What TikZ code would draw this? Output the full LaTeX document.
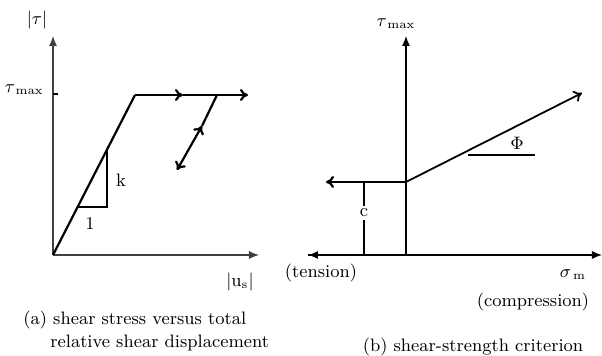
\documentclass[tikz,border=0pt]{standalone}
\usetikzlibrary{arrows.meta}
\tikzset{
  axis/.style={line width=0.6pt, black!75, -{Latex[length=5pt,width=4pt]}},
  law/.style={line width=1.1pt, -{To[length=4pt,width=6pt]}},
  lbl/.style={font=\fontsize{9}{11}\selectfont, inner sep=1pt},
}
\begin{document}
\begin{tikzpicture}[x=0.5pt,y=-0.5pt]
\useasboundingbox (0,0) rectangle (602,356);
% (a) shear stress versus displacement
\coordinate (oa) at (53,255);
\coordinate (ya) at (53,36);
\coordinate (xa) at (259,255);
\coordinate (ytop) at (135,95);
\coordinate (pmid) at (183,95);
\coordinate (pend) at (248,95);
\coordinate (ustart) at (217,95);
\coordinate (umid) at (202,126);
\coordinate (uend) at (177,170);
\coordinate (ttop) at (107,150);
\coordinate (tcorner) at (107,207);
\coordinate (tleft) at (77.5,207);
\coordinate (tick) at (58,94);
\draw[axis] (oa) -- (ya);
\draw[axis] (oa) -- (xa);
\draw[line width=0.6pt] (53,94) -- (tick);
\draw[line width=1.1pt] (oa) -- (ytop);
\draw[law] (ytop) -- (pmid);
\draw[law] (pmid) -- (pend);
\draw[line width=1.1pt] (ustart) -- (umid);
\draw[law,{To[length=4pt,width=6pt]}-{To[length=4pt,width=6pt]}] (uend) -- (umid);
\draw[line width=0.6pt] (tleft) -- (tcorner) -- (ttop);
\node[lbl] (tau) at (37,20) {$|\tau|$};
\node[lbl,anchor=east] (taumaxa) at (46,90) {$\tau_{\,\mathrm{max}}$};
\node[lbl] (k) at (121,180) {k};
\node[lbl] (one) at (90,224) {1};
\node[lbl] (us) at (240,282) {$|\mathrm{u}_{\mathrm{s}}|$};
\node[lbl,anchor=west] (capa1) at (21,320) {(a) shear stress versus total};
\node[lbl,anchor=west] (capa2) at (48,343) {relative shear displacement};
% (b) shear-strength criterion
\coordinate (ob) at (406,255);
\coordinate (yb) at (406,36);
\coordinate (xbl) at (308,255);
\coordinate (xbr) at (602,255);
\coordinate (cpt) at (406,182);
\coordinate (cend) at (326,182);
\coordinate (fend) at (582,93);
\coordinate (phil) at (468,155);
\coordinate (phir) at (535,155);
\draw[axis,black] (ob) -- (yb);
\draw[axis,black] (xbl) -- (xbr);
\draw[axis,black] (ob) -- (xbl);
\draw[law] (cpt) -- (cend);
\draw[law,line width=0.9pt] (cpt) -- (fend);
\draw[line width=0.6pt] (phil) -- (phir);
\node[lbl] (c) at (364,213) {c};
\draw[line width=0.6pt] (364,183) -- (c.north);
\draw[line width=0.6pt] (c.south) -- (364,255);
\node[lbl] (taumaxb) at (396,24) {$\tau_{\,\mathrm{max}}$};
\node[lbl] (phi) at (517,143) {$\Phi$};
\node[lbl] (tension) at (321,273) {(tension)};
\node[lbl] (sigm) at (573,275) {$\sigma_{\,\mathrm{m}}$};
\node[lbl] (comp) at (533,302) {(compression)};
\node[lbl] (capb) at (473,347) {(b) shear-strength criterion};
\end{tikzpicture}
\end{document}
